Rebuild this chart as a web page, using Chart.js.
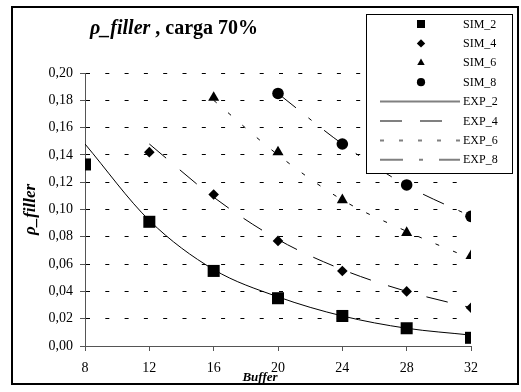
<!DOCTYPE html>
<html>
<head>
<meta charset="utf-8">
<script src="https://cdn.jsdelivr.net/npm/chart.js@4"></script>
<style>
  html, body { margin: 0; padding: 0; background: #fff; }
  #wrap { position: relative; width: 521px; height: 392px; }
</style>
</head>
<body>
<div id="wrap"><canvas id="c" width="521" height="392"></canvas></div>
<script>
// ---- data ----
const buffers = [8, 12, 16, 20, 24, 28, 32];
const xTickLabels = ['8', '12', '16', '20', '24', '28', '32'];
const yTickLabels = ['0,00', '0,02', '0,04', '0,06', '0,08', '0,10', '0,12', '0,14', '0,16', '0,18', '0,20'];

const sim2 = [0.133, 0.091, 0.055, 0.035, 0.022, 0.013, 0.006];
const sim4 = [null, 0.142, 0.111, 0.077, 0.055, 0.040, 0.028];
const sim6 = [null, null, 0.182, 0.142, 0.107, 0.083, 0.066];
const sim8 = [null, null, null, 0.185, 0.148, 0.118, 0.095];

const exp2 = [0.148, 0.092, 0.056, 0.036, 0.022, 0.013, 0.008];
const exp4 = [null, 0.148, 0.109, 0.078, 0.056, 0.040, 0.028];
const exp6 = [null, null, 0.180, 0.140, 0.107, 0.084, 0.064];
const exp8 = [null, null, null, 0.185, 0.148, 0.1175, 0.095];

const seriesLabels = ['SIM_2', 'SIM_4', 'SIM_6', 'SIM_8', 'EXP_2', 'EXP_4', 'EXP_6', 'EXP_8'];
const titleItalic = 'ρ_filler';
const titleRest = ' , carga 70%';
const yTitle = 'ρ_filler';
const xTitle = 'Buffer';

// ---- helpers ----
function pts(vals) {
  const out = [];
  vals.forEach((v, i) => { if (v !== null) out.push({ x: buffers[i], y: v }); });
  return out;
}
const SERIF = '"Liberation Serif", "Times New Roman", serif';

function simSet(label, vals, style, r) {
  return {
    label, data: pts(vals), showLine: false,
    pointStyle: style, pointRadius: r, pointHoverRadius: r,
    backgroundColor: '#000', borderColor: '#000', pointBorderWidth: 0
  };
}
function expSet(label, vals, dash) {
  return {
    label, data: pts(vals), showLine: true,
    borderColor: '#000', borderWidth: 1, borderDash: dash,
    pointRadius: 0, pointHoverRadius: 0, fill: false,
    cubicInterpolationMode: 'monotone'
  };
}

const datasets = [
  simSet(seriesLabels[0], sim2, 'rect', 8.5),
  simSet(seriesLabels[1], sim4, 'rectRot', 5.3),
  simSet(seriesLabels[2], sim6, 'triangle', 6.4),
  simSet(seriesLabels[3], sim8, 'circle', 5.8),
  expSet(seriesLabels[4], exp2, []),
  expSet(seriesLabels[5], exp4, [22, 18]),
  expSet(seriesLabels[6], exp6, [4, 15]),
  expSet(seriesLabels[7], exp8, [23, 16, 4, 16])
];
const legendRadius = [5.7, 4.2, 4.3, 4.1];

// ---- custom drawing: frame, title, x title, boxed legend ----
const decor = {
  id: 'decor',
  beforeDraw(chart) {
    const ctx = chart.ctx;
    ctx.save();
    ctx.fillStyle = '#fff';
    ctx.fillRect(0, 0, chart.width, chart.height);
    ctx.restore();
  },
  afterDraw(chart) {
    const ctx = chart.ctx;
    ctx.save();
    // outer frame
    ctx.strokeStyle = '#000';
    ctx.lineWidth = 2;
    ctx.strokeRect(12, 7, 506, 377);

    // title
    ctx.fillStyle = '#000';
    ctx.textBaseline = 'alphabetic';
    ctx.textAlign = 'left';
    ctx.font = 'bold italic 20px ' + SERIF;
    ctx.fillText(titleItalic, 90, 34);
    const w = ctx.measureText(titleItalic).width;
    ctx.font = 'bold 20px ' + SERIF;
    ctx.fillText(titleRest, 90 + w, 34);

    // x axis title
    ctx.font = 'bold italic 13px ' + SERIF;
    ctx.textAlign = 'center';
    ctx.textBaseline = 'middle';
    ctx.fillText(xTitle, 260, 378);

    // legend box
    ctx.fillStyle = '#fff';
    ctx.fillRect(366, 14, 146, 159);
    ctx.strokeStyle = '#000';
    ctx.lineWidth = 1;
    ctx.strokeRect(366.5, 14.5, 146, 159);
    ctx.font = '12px ' + SERIF;
    ctx.textAlign = 'left';
    ctx.textBaseline = 'middle';
    chart.data.datasets.forEach((ds, i) => {
      const y = 24 + i * 19.4;
      if (ds.showLine === false) {
        ctx.fillStyle = '#000';
        Chart.helpers.drawPoint(ctx, { pointStyle: ds.pointStyle, radius: legendRadius[i], borderWidth: 0, rotation: 0 }, 421, y);
      } else {
        ctx.save();
        ctx.strokeStyle = '#808080';
        ctx.lineWidth = 2;
        ctx.setLineDash(ds.borderDash);
        ctx.beginPath();
        ctx.moveTo(380, y);
        ctx.lineTo(460, y);
        ctx.stroke();
        ctx.restore();
      }
      ctx.fillStyle = '#000';
      ctx.fillText(ds.label, 463, y + 0.5);
    });
    ctx.restore();
  }
};

new Chart(document.getElementById('c'), {
  type: 'scatter',
  data: { datasets },
  plugins: [decor],
  options: {
    responsive: false,
    animation: false,
    events: [],
    layout: { padding: { top: 73, right: 50, left: 0, bottom: 0 } },
    plugins: { legend: { display: false }, title: { display: false }, tooltip: { enabled: false } },
    scales: {
      x: {
        type: 'linear', min: 8, max: 32,
        afterFit(s) { s.height = 46; },
        ticks: {
          stepSize: 4, color: '#000', padding: 9,
          font: { family: SERIF, size: 14 },
          callback: (v, i) => xTickLabels[i]
        },
        grid: { drawOnChartArea: false, drawTicks: true, tickLength: 5, tickColor: '#555', tickBorderDash: [] },
        border: { display: true, color: '#555', width: 1 }
      },
      y: {
        type: 'linear', min: 0, max: 0.2,
        afterFit(s) { s.width = 85; },
        ticks: {
          stepSize: 0.02, color: '#000', padding: 7,
          font: { family: SERIF, size: 14 },
          callback: (v, i) => yTickLabels[i]
        },
        grid: { drawOnChartArea: true, color: '#000', lineWidth: 1, drawTicks: true, tickLength: 5, tickColor: '#555', tickBorderDash: [] },
        border: { display: true, color: '#555', width: 1, dash: [4, 15.3] },
        title: {
          display: true, text: yTitle, color: '#000',
          font: { family: SERIF, size: 17, weight: 'bold', style: 'italic' },
          padding: { top: 20, bottom: 0 }
        }
      }
    }
  }
});
</script>
</body>
</html>
